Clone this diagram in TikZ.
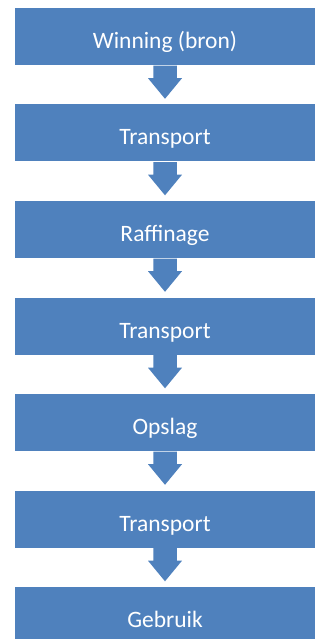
\documentclass[tikz,border=0pt]{standalone}
\usepackage{fontspec}
\setmainfont{Carlito}
\usetikzlibrary{calc}
\definecolor{stepblue}{HTML}{4F81BD}

% block arrow between two boxes
\newcommand{\flowarrow}[2]{%
  \fill[flow] ($(#1.south)+(-11.75,0.5)$) -- ($(#1.south)+(11.75,0.5)$)
    -- ($(#1.south)+(11.75,13)$) -- ($(#1.south)+(17,13)$)
    -- ($(#2.north)+(0,-5.5)$)
    -- ($(#1.south)+(-17,13)$) -- ($(#1.south)+(-11.75,13)$) -- cycle;}

\begin{document}
\begin{tikzpicture}
            [x=1pt, y=-1pt,
            stepbox/.style={fill=stepblue, minimum width=300pt, minimum height=57pt,
              inner sep=0pt, text=white, text height=24pt, text depth=0pt,
              font=\fontsize{23.5}{28}\selectfont},
            flow/.style={fill=stepblue}]

            \useasboundingbox (0,0) rectangle (321,639);

            \node[stepbox] (bron) at (165,36.5) {Winning (bron)};
            \node[stepbox] (trans1) at (165,133) {Transport};
            \node[stepbox] (raff) at (165,229.5) {Raffinage};
            \node[stepbox] (trans2) at (165,326) {Transport};
            \node[stepbox] (opslag) at (165,422.5) {Opslag};
            \node[stepbox] (trans3) at (165,519) {Transport};
            \node[stepbox] (gebruik) at (165,615.5) {Gebruik};

            \flowarrow{bron}{trans1}
            \flowarrow{trans1}{raff}
            \flowarrow{raff}{trans2}
            \flowarrow{trans2}{opslag}
            \flowarrow{opslag}{trans3}
            \flowarrow{trans3}{gebruik}

        \end{tikzpicture}
\end{document}
